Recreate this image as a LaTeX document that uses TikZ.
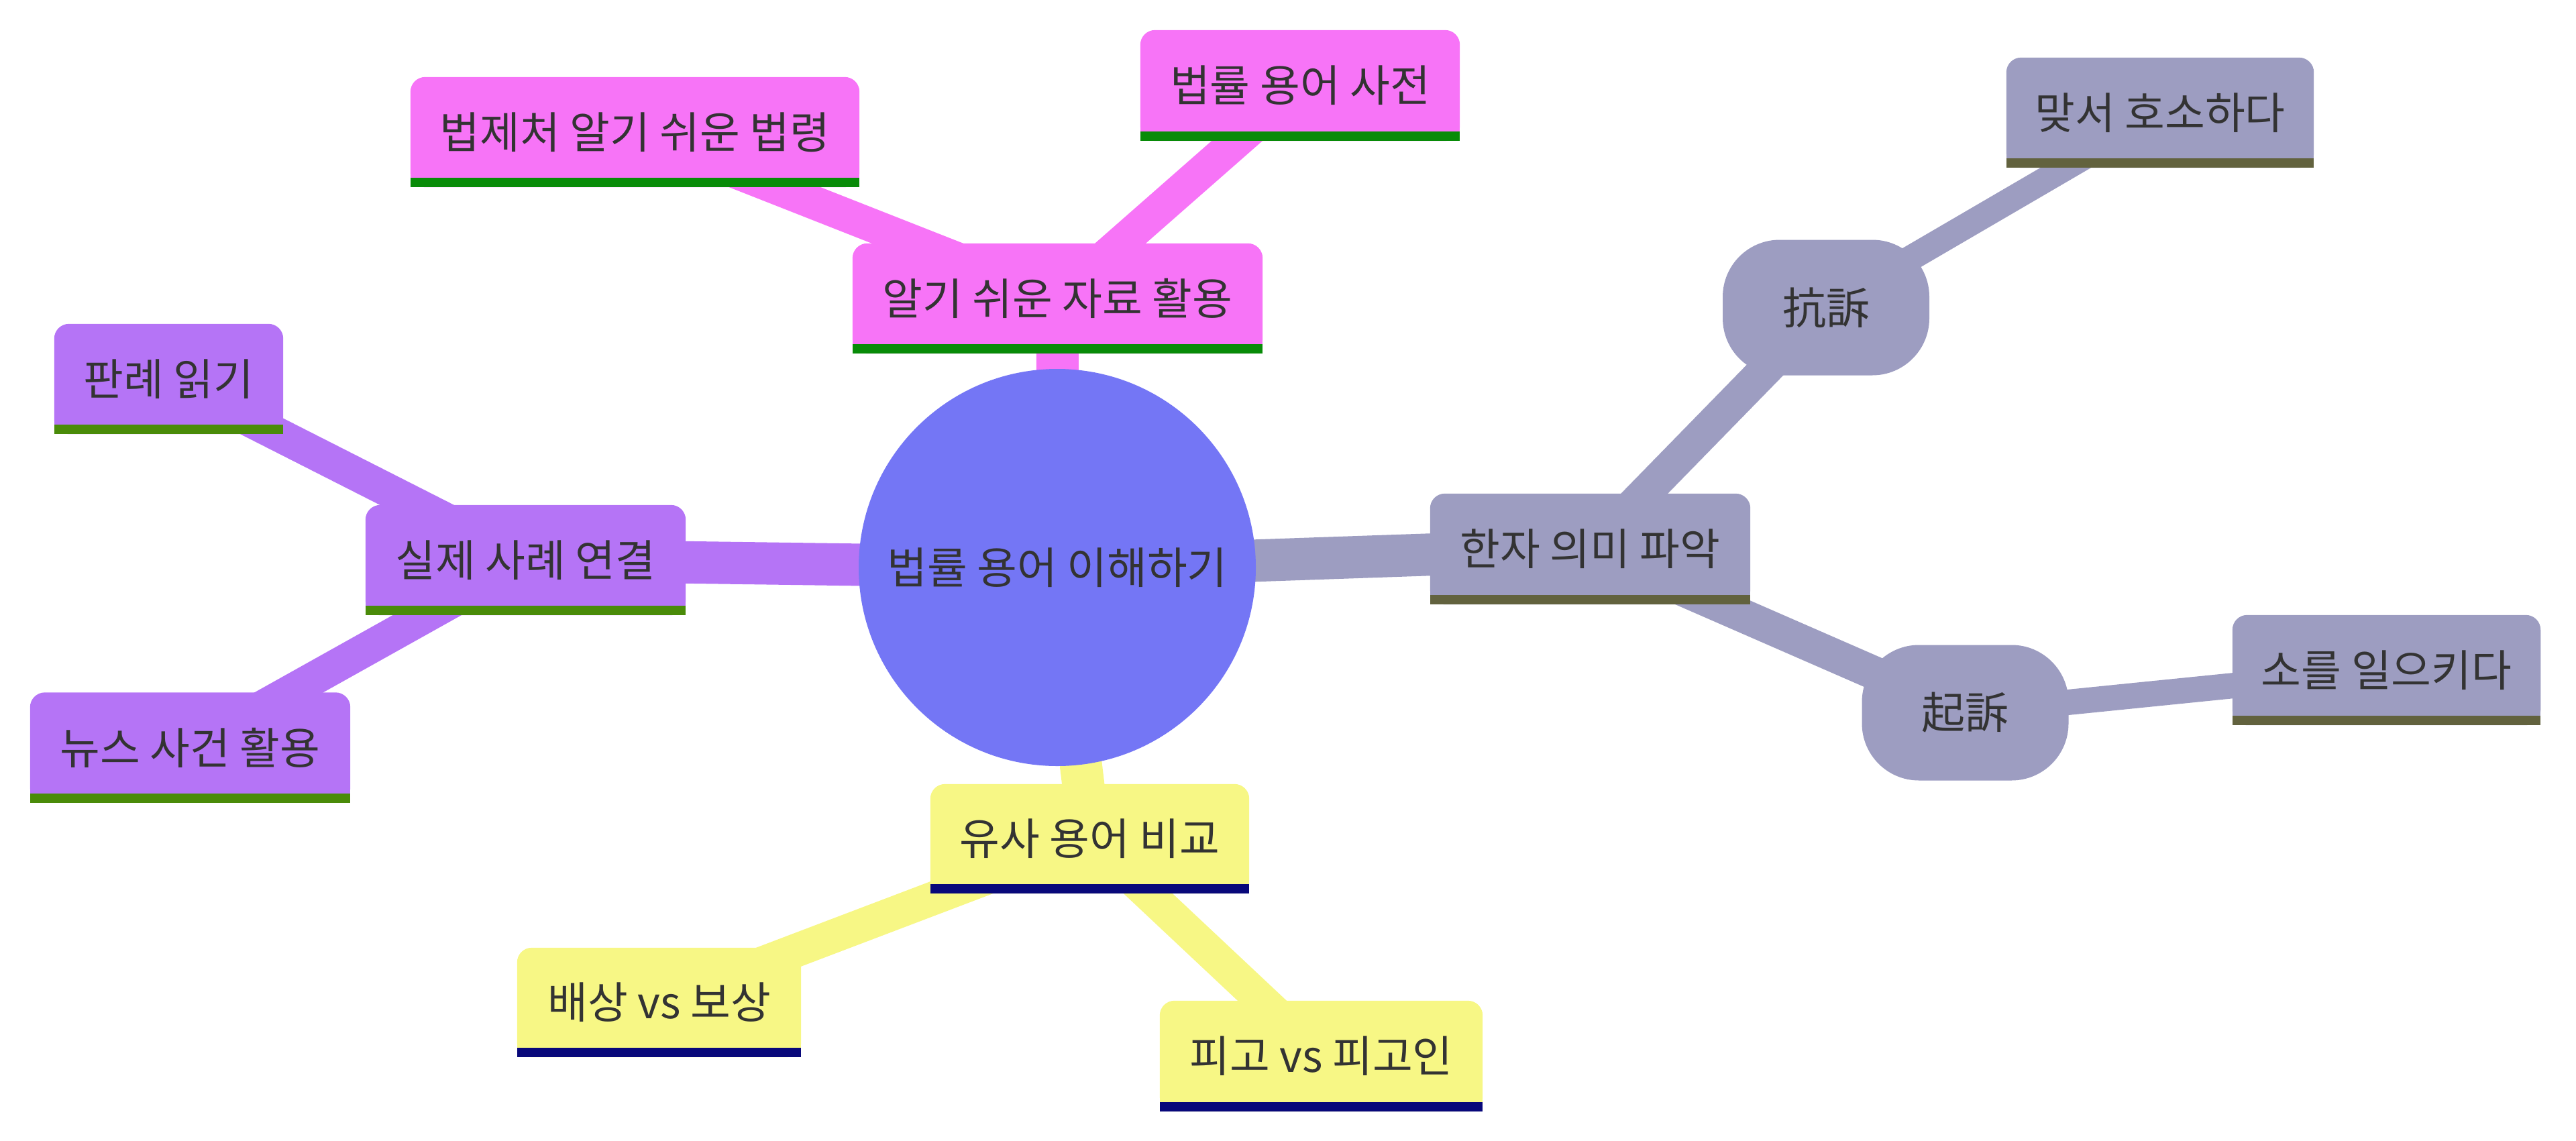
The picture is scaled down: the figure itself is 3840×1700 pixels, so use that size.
\documentclass[tikz,border=0pt]{standalone}
\usepackage{fontspec}
\setmainfont{Noto Sans CJK KR}
\pgfdeclarelayer{edges}
\pgfdeclarelayer{bgs}
\pgfsetlayers{edges,bgs,main}
\definecolor{rootc}{RGB}{116,118,245}
\definecolor{pinkc}{RGB}{247,116,247}
\definecolor{pinkb}{RGB}{8,139,8}
\definecolor{purc}{RGB}{181,116,246}
\definecolor{purb}{RGB}{74,139,9}
\definecolor{grayc}{RGB}{157,157,193}
\definecolor{grayb}{RGB}{98,98,62}
\definecolor{yelc}{RGB}{247,247,133}
\definecolor{yelb}{RGB}{8,8,122}
\definecolor{txtc}{RGB}{51,51,51}
\tikzset{
  lbl/.style={text=txtc, font=\fontsize{65}{76}\selectfont, inner sep=0pt, align=center},
  e0/.style={line width=63pt, line cap=butt},
  e1/.style={line width=50pt, line cap=butt},
  e2/.style={line width=38pt, line cap=butt},
  rbox/.style={lbl, fill=grayc, rounded corners=85pt, minimum width=308pt, minimum height=202pt}
}
\newcommand\mmbox[3]{%
  \begin{pgfonlayer}{bgs}
  \fill[#2, rounded corners=22pt] (#1.south west) rectangle (#1.north east);
  \fill[#2] (#1.south west) rectangle (#1.east);
  \fill[#3] (#1.south west) rectangle ([yshift=14pt]#1.south east);
  \end{pgfonlayer}}
\begin{document}
\begin{tikzpicture}[x=1pt,y=1pt]
\useasboundingbox (0,0) rectangle (3840,-1700);
% root
\node[circle, fill=rootc, minimum size=592pt, inner sep=0pt, text=txtc, font=\fontsize{65}{76}\selectfont] (root) at (1576,-846) {법률 용어 이해하기};
% pink branch
\node[lbl, minimum width=611pt, minimum height=164pt] (easy) at (1576.5,-445) {알기 쉬운 자료 활용};
\node[lbl, minimum width=476pt, minimum height=165pt] (dict) at (1938,-127.5) {법률 용어 사전};
\node[lbl, minimum width=669pt, minimum height=164pt] (moleg) at (946.5,-197) {법제처 알기 쉬운 법령};
\mmbox{easy}{pinkc}{pinkb}
\mmbox{dict}{pinkc}{pinkb}
\mmbox{moleg}{pinkc}{pinkb}
% purple branch
\node[lbl, minimum width=477pt, minimum height=164pt] (real) at (783.5,-835) {실제 사례 연결};
\node[lbl, minimum width=341pt, minimum height=164pt] (case) at (251.5,-565) {판례 읽기};
\node[lbl, minimum width=477pt, minimum height=164pt] (news) at (283.5,-1114.5) {뉴스 사건 활용};
\mmbox{real}{purc}{purb}
\mmbox{case}{purc}{purb}
\mmbox{news}{purc}{purb}
% gray branch
\node[lbl, minimum width=477pt, minimum height=165pt] (hanja) at (2370.5,-818.5) {한자 의미 파악};
\node[rbox] (hang) at (2722,-458.5) {抗訴};
\node[rbox] (gi) at (2929.5,-1062.5) {起訴};
\node[lbl, minimum width=458pt, minimum height=164pt] (mat) at (3220,-168) {맞서 호소하다};
\node[lbl, minimum width=459pt, minimum height=164pt] (so) at (3557.5,-999) {소를 일으키다};
\mmbox{hanja}{grayc}{grayb}
\mmbox{mat}{grayc}{grayb}
\mmbox{so}{grayc}{grayb}
% yellow branch
\node[lbl, minimum width=475pt, minimum height=163pt] (sim) at (1624.5,-1250.5) {유사 용어 비교};
\node[lbl, minimum width=423pt, minimum height=163pt] (bae) at (982.5,-1494.5) {배상 vs 보상};
\node[lbl, minimum width=481pt, minimum height=165pt] (pi) at (1969.5,-1574.5) {피고 vs 피고인};
\mmbox{sim}{yelc}{yelb}
\mmbox{bae}{yelc}{yelb}
\mmbox{pi}{yelc}{yelb}
% edges
\begin{pgfonlayer}{edges}
\draw[e0, pinkc] (root.center) -- (easy.center);
\draw[e0, purc] (root.center) -- (real.center);
\draw[e0, grayc] (root.center) -- (hanja.center);
\draw[e0, yelc] (root.center) -- (sim.center);
\draw[e1, pinkc] (easy.center) -- (dict.center);
\draw[e1, pinkc] (easy.center) -- (moleg.center);
\draw[e1, purc] (real.center) -- (case.center);
\draw[e1, purc] (real.center) -- (news.center);
\draw[e1, grayc] (hanja.center) -- (hang.center);
\draw[e1, grayc] (hanja.center) -- (gi.center);
\draw[e2, grayc] (hang.center) -- (mat.center);
\draw[e2, grayc] (gi.center) -- (so.center);
\draw[e1, yelc] (sim.center) -- (bae.center);
\draw[e1, yelc] (sim.center) -- (pi.center);
\end{pgfonlayer}
\end{tikzpicture}
\end{document}
